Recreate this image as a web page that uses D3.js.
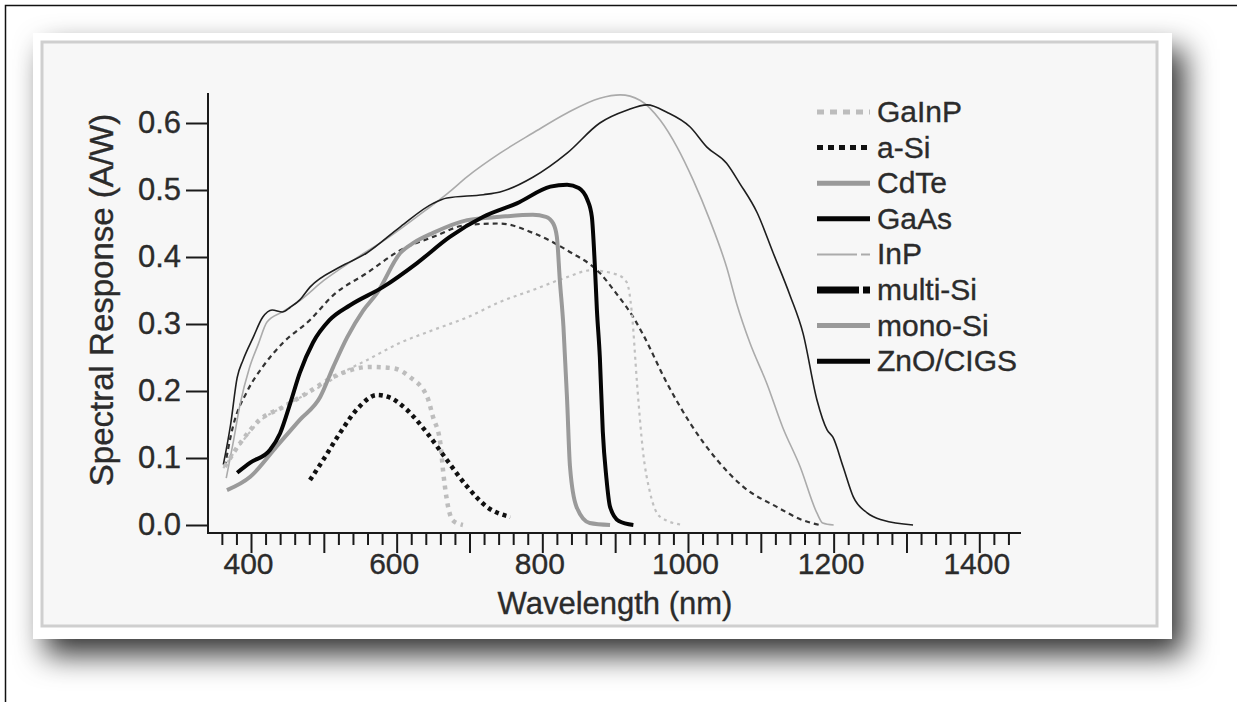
<!DOCTYPE html>
<html>
<head>
<meta charset="utf-8">
<script src="https://cdn.jsdelivr.net/npm/d3@7"></script>
<style>
  html, body { margin:0; padding:0; background:#fff; }
  svg text { font-family: "Liberation Sans", Arial, sans-serif; fill:#2b2b2b; stroke:#2b2b2b; stroke-width:0.35; }
</style>
</head>
<body>
<div id="chart"></div>
<script>
// series values: [wavelength nm, response A/W]
var gainp = [[364,0.087],[385,0.122],[412,0.157],[444,0.176],[477,0.197],[513,0.221],[536,0.231],[563,0.236],[595,0.234],[618,0.221],[642,0.191],[650,0.161],[660,0.122],[664,0.078],[669,0.037],[677,0.007],[691,0.0]];
var aSi = [[481,0.067],[499,0.097],[522,0.137],[545,0.172],[573,0.194],[591,0.19],[614,0.172],[642,0.137],[669,0.097],[697,0.057],[724,0.027],[756,0.012]];
var cdte = [[367,0.052],[399,0.072],[435,0.117],[467,0.157],[495,0.191],[513,0.236],[532,0.28],[554,0.32],[573,0.346],[605,0.406],[623,0.421],[650,0.436],[697,0.455],[742,0.46],[787,0.463],[805,0.46],[815,0.45],[820,0.43],[824,0.366],[829,0.296],[834,0.187],[838,0.087],[847,0.027],[865,0.003],[893,0.0]];
var gaas = [[381,0.078],[399,0.093],[426,0.112],[440,0.137],[454,0.182],[467,0.227],[485,0.272],[508,0.306],[536,0.328],[581,0.355],[628,0.391],[673,0.43],[719,0.46],[765,0.48],[811,0.505],[834,0.508],[850,0.503],[862,0.485],[868,0.46],[872,0.39],[875,0.32],[879,0.25],[883,0.14],[888,0.07],[893,0.027],[905,0.006],[925,0.0]];
var inp = [[366,0.07],[375,0.12],[385,0.18],[398,0.235],[410,0.27],[422,0.303],[443,0.318],[467,0.335],[500,0.365],[540,0.395],[590,0.43],[640,0.47],[670,0.495],[697,0.52],[742,0.555],[787,0.585],[834,0.615],[879,0.637],[907,0.642],[934,0.634],[962,0.604],[985,0.564],[1007,0.515],[1030,0.455],[1053,0.385],[1067,0.33],[1085,0.272],[1108,0.212],[1130,0.146],[1154,0.087],[1177,0.018],[1185,0.003],[1200,0.0]];
var multiSi = [[364,0.087],[375,0.146],[395,0.2],[416,0.236],[444,0.272],[481,0.306],[513,0.343],[559,0.376],[605,0.41],[650,0.43],[697,0.448],[742,0.45],[787,0.436],[834,0.41],[879,0.376],[902,0.345],[925,0.31],[938,0.285],[971,0.212],[1003,0.152],[1040,0.097],[1076,0.057],[1122,0.027],[1158,0.007],[1181,0.0]];
var monoSi = [[362,0.085],[385,0.12],[412,0.155],[444,0.176],[477,0.196],[504,0.212],[530,0.23],[559,0.246],[605,0.272],[650,0.291],[697,0.31],[742,0.333],[790,0.352],[834,0.37],[866,0.38],[902,0.374],[916,0.362],[923,0.316],[930,0.212],[938,0.112],[948,0.048],[962,0.012],[993,0.0]];
var znoCigs = [[362,0.09],[372,0.15],[381,0.22],[389,0.246],[403,0.28],[416,0.31],[429,0.321],[443,0.318],[454,0.325],[467,0.336],[481,0.355],[522,0.385],[559,0.406],[605,0.445],[650,0.48],[669,0.488],[719,0.493],[742,0.497],[787,0.519],[834,0.555],[879,0.6],[916,0.619],[944,0.627],[971,0.616],[1003,0.594],[1026,0.564],[1053,0.54],[1071,0.51],[1095,0.466],[1117,0.406],[1140,0.343],[1158,0.286],[1177,0.187],[1191,0.142],[1199,0.131],[1213,0.087],[1227,0.042],[1246,0.018],[1268,0.007],[1309,0.0]];

var seriesNames = ["GaInP","a-Si","CdTe","GaAs","InP","multi-Si","mono-Si","ZnO/CIGS"];
var seriesData = [gainp, aSi, cdte, gaas, inp, multiSi, monoSi, znoCigs];

var yTicks = [0,0.1,0.2,0.3,0.4,0.5,0.6];
var xLabelTicks = [400,600,800,1000,1200,1400];

// how each curve is stroked in the plot
var curveStyle = {
  "GaInP":    {color:"#bdbdbd", width:4.5, dash:"4,5"},
  "a-Si":     {color:"#111",    width:4.5, dash:"4,4"},
  "CdTe":     {color:"#9a9a9a", width:4,   dash:null},
  "GaAs":     {color:"#050505", width:4,   dash:null},
  "InP":      {color:"#ababab", width:1.6, dash:null},
  "multi-Si": {color:"#333",    width:2.2, dash:"5,4"},
  "mono-Si":  {color:"#c0c0c0", width:2.2, dash:"3,4"},
  "ZnO/CIGS": {color:"#1e1e1e", width:1.6, dash:null}
};
// and how the legend sample looks
var legendStyle = {
  "GaInP":    {color:"#bdbdbd", width:5, dash:"7,6"},
  "a-Si":     {color:"#111",    width:5, dash:"6,5"},
  "CdTe":     {color:"#9a9a9a", width:5, dash:null},
  "GaAs":     {color:"#050505", width:5, dash:null},
  "InP":      {color:"#ababab", width:2, dash:"40,4,9"},
  "multi-Si": {color:"#050505", width:7, dash:"42,4,9"},
  "mono-Si":  {color:"#9a9a9a", width:5, dash:null},
  "ZnO/CIGS": {color:"#050505", width:5, dash:null}
};

var W = 1237, H = 702;
var svg = d3.select("#chart").append("svg")
    .attr("width", W).attr("height", H);

var defs = svg.append("defs");
var f = defs.append("filter").attr("id","shadow")
    .attr("x","-10%").attr("y","-10%").attr("width","130%").attr("height","140%");
f.append("feDropShadow").attr("dx",12).attr("dy",16).attr("stdDeviation",15)
    .attr("flood-color","#000").attr("flood-opacity",0.8);

// outer frame
svg.append("rect").attr("x",5.5).attr("y",5.5).attr("width",1250).attr("height",720)
    .attr("fill","#fff").attr("stroke","#111").attr("stroke-width",1.5);

// panel with shadow
svg.append("rect").attr("x",33).attr("y",33).attr("width",1139).attr("height",606)
    .attr("fill","#fff").attr("filter","url(#shadow)");
svg.append("rect").attr("x",42).attr("y",42).attr("width",1115).attr("height",584)
    .attr("fill","#f7f7f7").attr("stroke","#cfcfcf").attr("stroke-width",3);

var x = d3.scaleLinear().domain([400,1400]).range([251,979.3]);
var y = d3.scaleLinear().domain([0,0.6]).range([525,123]);

var axisColor = "#1a1a1a";

// y axis
svg.append("line").attr("x1",208).attr("x2",208).attr("y1",93).attr("y2",534)
    .attr("stroke",axisColor).attr("stroke-width",2);
var yAxis = d3.axisLeft(y).tickValues(yTicks).tickFormat(d3.format(".1f"))
    .tickSize(22).tickPadding(5);
var gy = svg.append("g").attr("transform","translate(208,0)").call(yAxis);
gy.select(".domain").remove();
gy.selectAll(".tick line").attr("stroke",axisColor).attr("stroke-width",2);
gy.selectAll(".tick text").attr("font-size",31).attr("fill","#2b2b2b");

// x axis: minor ticks every 20, longer every 100, labels every 200
var xAxisY = 533;
svg.append("line").attr("x1",207).attr("x2",1021).attr("y1",xAxisY).attr("y2",xAxisY)
    .attr("stroke",axisColor).attr("stroke-width",2);
var gxMinor = svg.append("g").attr("transform","translate(0,"+xAxisY+")")
    .call(d3.axisBottom(x).tickValues(d3.range(360,1441,20).filter(function(d){return d%100!==0;}))
        .tickSize(12).tickFormat(""));
var gxMajor = svg.append("g").attr("transform","translate(0,"+xAxisY+")")
    .call(d3.axisBottom(x).tickValues(d3.range(400,1401,100))
        .tickSize(20).tickFormat(function(d){ return xLabelTicks.indexOf(d) >= 0 ? d : ""; })
        .tickPadding(8));
[gxMinor, gxMajor].forEach(function(g){
  g.select(".domain").remove();
  g.selectAll(".tick line").attr("stroke",axisColor).attr("stroke-width",2);
});
gxMajor.selectAll(".tick text").attr("font-size",30).attr("fill","#2b2b2b")
    .attr("transform","translate(-3,-8)");

// axis titles
svg.append("text").attr("x",615).attr("y",614).attr("text-anchor","middle")
    .attr("font-size",31).text("Wavelength (nm)");
svg.append("text").attr("transform","translate(113,300) rotate(-90)")
    .attr("text-anchor","middle").attr("font-size",33).text("Spectral Response (A/W)");

// curves
var line = d3.line()
    .x(function(d){ return x(d[0]); })
    .y(function(d){ return y(d[1]); })
    .curve(d3.curveMonotoneX);

var drawOrder = ["multi-Si","mono-Si","InP","ZnO/CIGS","GaInP","CdTe","GaAs","a-Si"];
drawOrder.forEach(function(name){
  var s = curveStyle[name],
      data = seriesData[seriesNames.indexOf(name)];
  svg.append("path")
      .datum(data)
      .attr("d", line)
      .attr("fill","none")
      .attr("stroke", s.color)
      .attr("stroke-width", s.width)
      .attr("stroke-dasharray", s.dash)
      .attr("stroke-linejoin","round");
});

// legend
var lg = svg.append("g").attr("transform","translate(817,111)");
seriesNames.forEach(function(name, i){
  var s = legendStyle[name],
      row = lg.append("g").attr("transform","translate(0,"+(i*35.6)+")");
  row.append("line").attr("x1",0).attr("x2",53).attr("y1",1).attr("y2",1)
      .attr("stroke",s.color).attr("stroke-width",s.width)
      .attr("stroke-dasharray",s.dash);
  row.append("text").attr("x",60).attr("y",11).attr("font-size",30).text(name);
});
</script>
</body>
</html>
